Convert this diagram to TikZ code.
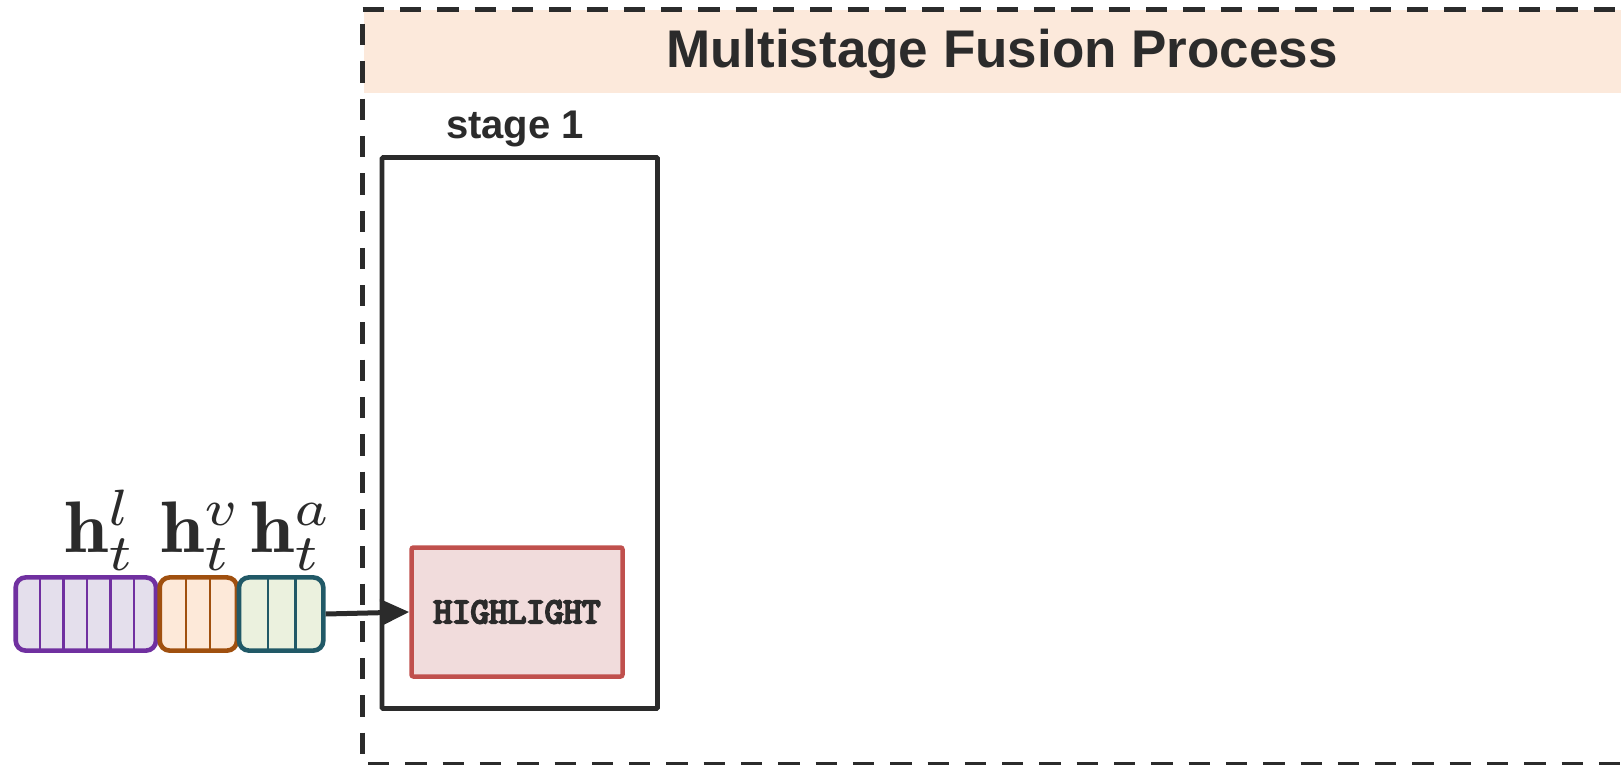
\documentclass[tikz,border=0pt]{standalone}
\usepackage{fontspec}
\newfontfamily\headfont{Liberation Sans}
\newfontfamily\codefont{Latin Modern Mono}
\usetikzlibrary{arrows.meta}

\definecolor{ink}{HTML}{2B2B2B}
\definecolor{bandfill}{HTML}{FCE9DB}
\definecolor{hlborder}{HTML}{C0504D}
\definecolor{hlfill}{HTML}{F1DCDC}
\definecolor{lanline}{HTML}{7030A0}
\definecolor{lanfill}{HTML}{E4DFEC}
\definecolor{visline}{HTML}{A0500F}
\definecolor{visfill}{HTML}{FDE9D9}
\definecolor{audline}{HTML}{215967}
\definecolor{audfill}{HTML}{EBF1DE}

\newcommand{\veclab}[1]{\scalebox{7.9}[7.3]{$\mathbf{h}_t^{#1}$}}
% heavier typewriter text: fill and stroke the glyph outlines
\newcommand{\heavycode}[1]{\special{pdf:literal direct 2.2 w 2 Tr}#1\special{pdf:literal direct 0 Tr}}

\tikzset{
  vecbox/.style={draw, line width=4.6pt, rounded corners=10pt, inner sep=0pt,
    minimum height=73.2pt},
  divider/.style={line width=2.6pt},
  frameline/.style={draw=ink, line width=4.6pt, dash pattern=on 21.3pt off 16pt},
  stagebox/.style={draw=ink, line width=4.6pt, rounded corners=1pt, inner sep=0pt},
  hlbox/.style={draw=hlborder, fill=hlfill, line width=4.5pt, rounded corners=2pt,
    inner sep=0pt, text=ink, font=\codefont\fontsize{36}{40}\selectfont},
  veclabel/.style={anchor=base west, inner sep=0pt, text=ink,
    font=\fontsize{10}{12}\selectfont},
  link/.style={draw=ink, line width=5pt, -{Triangle[length=29pt,width=26pt]}}
}

\begin{document}
\begin{tikzpicture}[x=1pt, y=-1pt]
\useasboundingbox (0,0) rectangle (1621,765);

% title band of the fusion frame
\fill[bandfill] (364,10) rectangle (1621,93);
\node[text=ink, font=\headfont\bfseries\fontsize{53}{60}\selectfont, anchor=base, inner sep=0pt]
  (title) at (1002,68) {Multistage Fusion Process};

% dashed frame, open on the right
\coordinate (frameTL) at (362.7,9.7);
\coordinate (frameTR) at (1621,9.7);
\coordinate (frameLtop) at (362.5,24);
\coordinate (frameBL) at (362.5,764);
\coordinate (frameBstart) at (368,764);
\coordinate (frameBR) at (1621,764);
\draw[frameline] (frameTL) -- (frameTR);
\draw[frameline] (frameLtop) -- (frameBL);
\draw[frameline] (frameBstart) -- (frameBR);

% stage 1
\node[stagebox, minimum width=275.5pt, minimum height=551pt] (stage) at (519.75,433) {};
\node[text=ink, font=\headfont\bfseries\fontsize{40}{46}\selectfont, anchor=base, inner sep=0pt]
  (stagelabel) at (515,139) {stage 1};

\node[hlbox, minimum width=211pt, minimum height=129pt] (hl) at (517,612) {\heavycode{HIGHLIGHT}};

% modality feature vectors
\node[vecbox, draw=lanline, fill=lanfill, minimum width=140.3pt] (vl) at (85.85,614) {};
\node[vecbox, draw=visline, fill=visfill, minimum width=77.3pt] (vv) at (198.35,614) {};
\node[vecbox, draw=audline, fill=audfill, minimum width=84.3pt] (va) at (281.15,614) {};

\foreach \x in {40,63.5,87,110.5,134}
  \draw[divider, lanline] (\x,579) -- (\x,649);
\foreach \x in {186,210}
  \draw[divider, visline] (\x,579) -- (\x,649);
\foreach \x in {268,295.5}
  \draw[divider, audline] (\x,579) -- (\x,649);

\node[veclabel] (ll) at (64,552) {\veclab{l}};
\node[veclabel] (lv) at (160,552) {\veclab{v}};
\node[veclabel] (la) at (250,552) {\veclab{a}};

\draw[link] (va.east) -- (hl.west);
\end{tikzpicture}
\end{document}
